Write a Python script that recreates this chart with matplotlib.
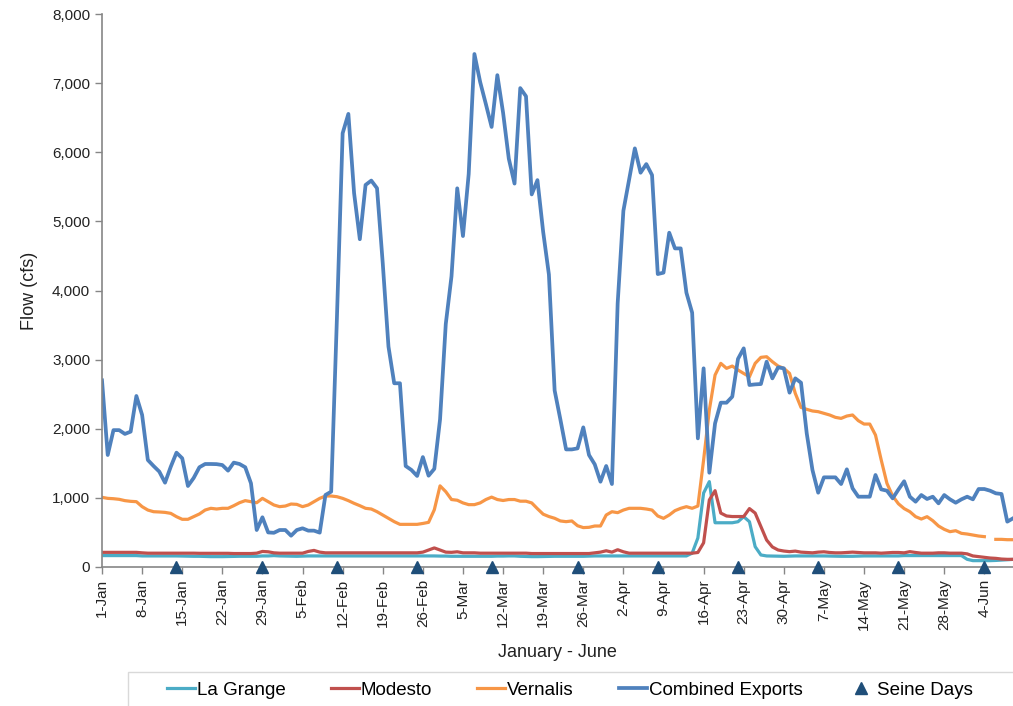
import numpy as np
import pandas as pd
import matplotlib
matplotlib.use("Agg")
import matplotlib.pyplot as plt
from matplotlib.ticker import FuncFormatter
from matplotlib.patches import Rectangle

plt.rcParams['font.family'] = ['Liberation Sans', 'DejaVu Sans']

# daily dates, 1-Jan .. 9-Jun
dates = pd.date_range("2013-01-01", periods=160, freq="D")

combined = [
    2700, 1620, 1980, 1980, 1925, 1958, 2474, 2200, 1548, 1461,
    1380, 1220, 1450, 1654, 1573, 1172, 1288, 1443, 1490, 1490,
    1488, 1475, 1394, 1510, 1490, 1443, 1211, 535, 719, 500,
    495, 535, 535, 453, 535, 560, 526, 526, 497, 1042,
    1090, 3600, 6275, 6555, 5407, 4742, 5527, 5590, 5480, 4394,
    3188, 2658, 2658, 1461, 1404, 1317, 1590, 1321, 1420, 2135,
    3516, 4206, 5478, 4788, 5685, 7421, 7017, 6696, 6366, 7115,
    6573, 5907, 5547, 6928, 6810, 5390, 5597, 4847, 4231, 2554,
    2135, 1701, 1701, 1716, 2020, 1620, 1485, 1234, 1461, 1200,
    3814, 5154, 5608, 6056, 5704, 5829, 5670, 4238, 4258, 4836,
    4609, 4609, 3968, 3679, 1861, 2874, 1364, 2078, 2377, 2377,
    2464, 3010, 3163, 2633, 2642, 2647, 2970, 2729, 2888, 2874,
    2522, 2729, 2666, 1933, 1403, 1075, 1297, 1297, 1297, 1200,
    1413, 1138, 1017, 1017, 1017, 1331, 1123, 1104, 993, 1120,
    1240, 1017, 945, 1041, 984, 1017, 921, 1041, 979, 930,
    979, 1017, 979, 1128, 1128, 1104, 1066, 1056, 656, 704,
]

vernalis = [
    1008, 993, 988, 979, 960, 950, 945, 873, 824, 800,
    796, 790, 776, 728, 690, 690, 728, 767, 824, 849,
    839, 849, 849, 887, 930, 960, 945, 930, 993, 945,
    897, 873, 882, 911, 906, 873, 897, 945, 993, 1027,
    1027, 1017, 993, 960, 921, 887, 849, 839, 800, 752,
    704, 656, 617, 617, 617, 617, 630, 646, 828, 1174,
    1090, 976, 966, 927, 902, 902, 927, 976, 1011, 976,
    962, 976, 976, 952, 952, 927, 843, 764, 730, 705,
    666, 656, 666, 597, 570, 574, 593, 593, 752, 800,
    786, 824, 849, 849, 849, 839, 824, 738, 704, 752,
    815, 849, 873, 849, 882, 1548, 2271, 2777, 2946, 2874,
    2907, 2850, 2800, 2753, 2946, 3033, 3042, 2970, 2907, 2874,
    2801, 2512, 2309, 2281, 2257, 2247, 2223, 2199, 2165, 2150,
    2184, 2199, 2117, 2068, 2068, 1909, 1548, 1210, 1027, 915,
    845, 800, 728, 694, 728, 670, 593, 545, 511, 525,
    487, 477, 463, 448, 439, np.nan, 400, 400, 395, 395,
]

la_grange = [
    165, 165, 165, 165, 165, 165, 165, 160, 160, 160,
    160, 160, 160, 160, 158, 155, 155, 155, 152, 150,
    150, 150, 152, 155, 155, 155, 155, 155, 160, 160,
    165, 160, 158, 155, 155, 158, 160, 160, 160, 160,
    160, 160, 160, 160, 160, 160, 160, 160, 160, 160,
    160, 160, 160, 160, 160, 160, 160, 160, 160, 158,
    158, 155, 155, 155, 155, 155, 155, 155, 155, 158,
    158, 160, 160, 155, 152, 150, 150, 152, 155, 155,
    155, 155, 155, 155, 155, 158, 160, 160, 160, 160,
    160, 160, 160, 160, 160, 160, 160, 160, 160, 160,
    160, 160, 160, 200, 420, 1070, 1235, 640, 640, 640,
    640, 655, 728, 655, 294, 174, 160, 158, 155, 155,
    158, 160, 160, 160, 160, 160, 160, 158, 155, 155,
    155, 155, 158, 160, 160, 160, 160, 160, 160, 160,
    165, 165, 165, 165, 165, 165, 165, 165, 165, 165,
    165, 111, 92, 92, 92, 92, 95, 100, 105, 110,
]

modesto = [
    212, 212, 212, 212, 212, 212, 212, 205, 200, 200,
    200, 200, 200, 200, 200, 200, 200, 198, 198, 198,
    198, 198, 198, 195, 195, 195, 195, 200, 225, 220,
    205, 200, 200, 200, 200, 200, 225, 240, 215, 205,
    205, 205, 205, 205, 205, 205, 205, 205, 205, 205,
    205, 205, 205, 205, 205, 205, 215, 245, 276, 245,
    215, 212, 220, 205, 205, 205, 200, 200, 200, 200,
    200, 200, 200, 200, 200, 195, 195, 195, 195, 195,
    195, 195, 195, 195, 195, 195, 205, 215, 235, 215,
    250, 220, 200, 200, 200, 200, 200, 200, 200, 200,
    200, 200, 200, 200, 210, 350, 970, 1104, 780, 738,
    730, 730, 730, 845, 780, 583, 390, 290, 246, 231,
    222, 230, 215, 210, 205, 215, 220, 210, 205, 205,
    210, 215, 210, 205, 205, 205, 200, 205, 210, 210,
    205, 222, 210, 200, 200, 200, 205, 205, 200, 200,
    200, 190, 160, 150, 140, 130, 125, 115, 111, 111,
]

seine_days = ["2013-01-14", "2013-01-29", "2013-02-11", "2013-02-25",
              "2013-03-10", "2013-03-25", "2013-04-08", "2013-04-22",
              "2013-05-06", "2013-05-20", "2013-06-04"]

fig = plt.figure(figsize=(10.13, 7.06), dpi=100)
ax = fig.add_axes([102/1013, 1 - 567/706, 911/1013, 553/706])

ax.plot(dates, la_grange, color="#4BACC6", lw=2.3, label="La Grange")
ax.plot(dates, modesto, color="#C0504D", lw=2.3, label="Modesto")
ax.plot(dates, vernalis, color="#F79646", lw=2.3, label="Vernalis")
ax.plot(dates, combined, color="#4F81BD", lw=2.7, label="Combined Exports")
sd = pd.to_datetime(seine_days)
ax.plot(sd, np.zeros(len(sd)), "^", color="#1F4E79", ms=8, clip_on=False,
        zorder=5, label="Seine Days")

ax.set_xlim(dates[0], dates[-1])
ax.set_ylim(0, 8000)
ax.set_yticks(range(0, 8001, 1000))
ax.yaxis.set_major_formatter(FuncFormatter(lambda v, p: f"{int(v):,}"))
ticks = dates[::7]
ax.set_xticks(ticks)
ax.set_xticklabels([f"{d.day}-{d.strftime('%b')}" for d in ticks], rotation=90)

for s in ["top", "right"]:
    ax.spines[s].set_visible(False)
for s in ["left", "bottom"]:
    ax.spines[s].set_color("#868686")
    ax.spines[s].set_linewidth(1.2)
ax.tick_params(axis="both", colors="#868686", labelcolor="#222222",
               labelsize=11, length=5, width=1.0)

ax.set_ylabel("Flow (cfs)", fontsize=13, color="#222222", labelpad=10)
ax.set_xlabel("January - June", fontsize=13, color="#222222", labelpad=10)

fig.patches.append(Rectangle((128/1013, -0.1), 1.0, 0.1 + 1 - 672/706,
                             transform=fig.transFigure, fill=False,
                             edgecolor="#D9D9D9", lw=1.0))
h, l = ax.get_legend_handles_labels()
fig.legend(h, l, loc="center left", bbox_to_anchor=(150/1013, 1 - 690/706),
           ncol=5, frameon=False, fontsize=13.5, handlelength=1.5,
           handletextpad=0.1, columnspacing=2.4)

fig.savefig("out.png", dpi=100)
